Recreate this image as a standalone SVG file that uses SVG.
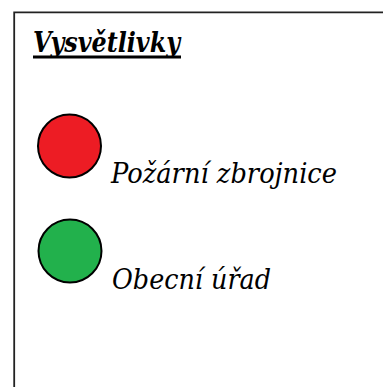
<svg xmlns="http://www.w3.org/2000/svg" width="383" height="387" viewBox="0 0 383 387">
<style>
text{fill:#000}
.lbl{font-family:"DejaVu Serif",serif;font-style:italic;font-size:27px}
.ttl{font-family:"DejaVu Serif",serif;font-style:italic;font-weight:bold;font-size:28.5px}
.dot{stroke:#000;stroke-width:2}
</style>
<rect width="383" height="387" fill="#fff"/>
<g id="frame">
<path d="M14.2 387 V12.4 H383" fill="none" stroke="#222" stroke-width="1.8"/>
</g>
<g id="title">
<text class="ttl" x="33" y="52" textLength="147" lengthAdjust="spacingAndGlyphs">Vysvětlivky</text>
<rect x="33" y="55.5" width="148" height="3" fill="#000"/>
</g>
<g id="legend-fire">
<circle class="dot" cx="69.5" cy="146" r="31.5" fill="#ed1c24"/>
<text class="lbl" x="111" y="183" textLength="226" lengthAdjust="spacingAndGlyphs">Požární zbrojnice</text>
</g>
<g id="legend-office">
<circle class="dot" cx="70" cy="251" r="31.5" fill="#22b14c"/>
<text class="lbl" x="112" y="289" textLength="159" lengthAdjust="spacingAndGlyphs">Obecní úřad</text>
</g>
<g id="connectors"/>
</svg>
